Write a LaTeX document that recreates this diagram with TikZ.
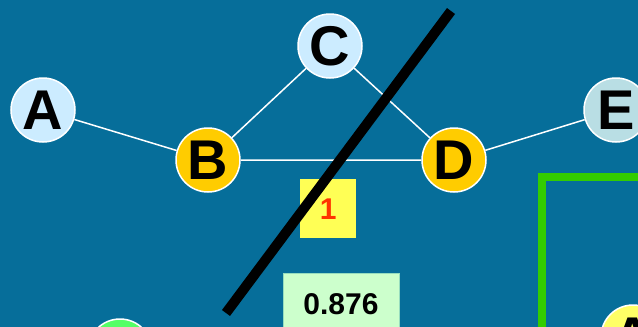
\documentclass[tikz,border=0pt]{standalone}
\usepackage{fontspec}
\setmainfont{Liberation Sans}
\definecolor{bg}{RGB}{6,110,154}
\definecolor{lblue}{RGB}{204,236,255}
\definecolor{ecol}{RGB}{185,222,228}
\definecolor{gold}{RGB}{255,204,0}
\definecolor{lgreen}{RGB}{85,255,102}
\definecolor{lyel}{RGB}{255,255,102}
\definecolor{boxyel}{RGB}{255,255,85}
\definecolor{boxgreen}{RGB}{204,255,204}
\definecolor{frame}{RGB}{51,204,0}
\definecolor{redtxt}{RGB}{255,51,0}
\begin{document}
\begin{tikzpicture}[x=1pt,y=-1pt,
  vert/.style={circle,draw=white,line width=1.5pt,minimum size=64pt,inner sep=0pt,font=\fontsize{56}{56}\selectfont\bfseries,text=black},
  edge/.style={draw=white,line width=1.5pt},
  wbox/.style={inner sep=0pt,font=\fontsize{30}{30}\selectfont\bfseries}]
\useasboundingbox (0,0) rectangle (638,327);
\clip (0,0) rectangle (638,327);
\fill[bg] (0,0) rectangle (638,327);
% green frame
\draw[frame,line width=8pt] (541.5,400) -- (541.5,177) -- (700,177);
% edges
\coordinate (pa) at (43,110);
\coordinate (pb) at (208,160);
\coordinate (pc) at (330,46);
\coordinate (pd) at (454,160);
\coordinate (pe) at (616,110);
\node[vert,fill=lblue] (A) at (pa) {A};
\node[vert,fill=gold] (B) at (pb) {B};
\node[vert,fill=lblue] (C) at (pc) {C};
\node[vert,fill=gold] (D) at (pd) {D};
\node[vert,fill=ecol] (E) at (pe) {E};
\node[vert,fill=lgreen] (G) at (120,351) {};
\node[vert,fill=lyel] (Y) at (633,337) {A};
\path[edge] (A) -- (B) (B) -- (C) (C) -- (D) (B) -- (D) (D) -- (E);
% weight boxes
\node[wbox,fill=boxyel,text=redtxt,minimum width=56pt,minimum height=59pt,anchor=north west] (w1) at (300,179) {1};
\node[wbox,fill=boxgreen,draw={rgb,255:red,150;green,220;blue,190},line width=1pt,text=black,minimum width=116pt,minimum height=60pt,anchor=north west,text depth=0pt] (w2) at (283,273) {};
\node[wbox,text=black,anchor=base] at (341,314) {0.876};
% cut line
\coordinate (c1) at (451,11);
\coordinate (c2) at (226,313);
\draw[black,line width=10pt] (c1) -- (c2);
\end{tikzpicture}
\end{document}
